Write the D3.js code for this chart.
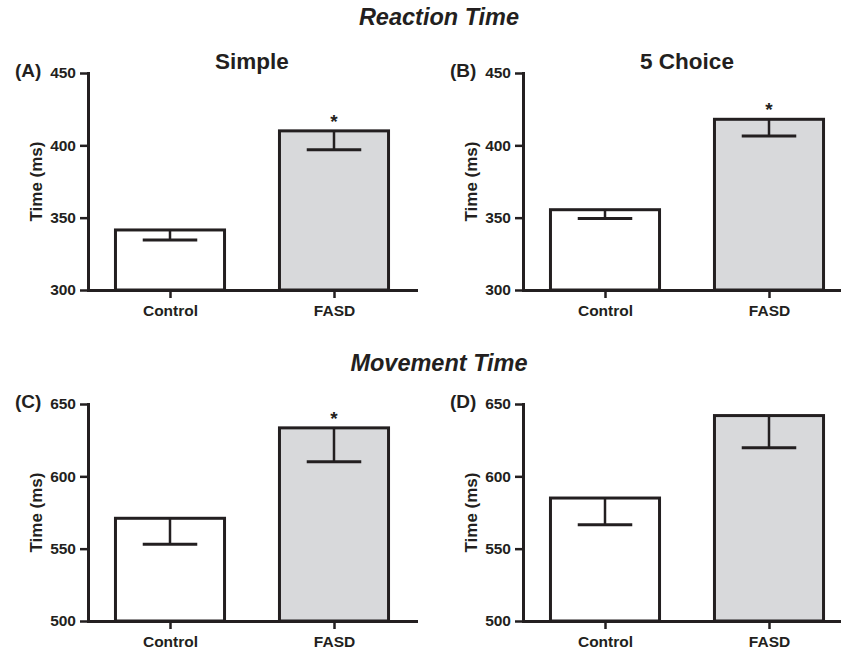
<!DOCTYPE html>
<html lang="en">
<head>
    <meta charset="UTF-8">
    <title>Reaction and movement time</title>
    <script src="https://d3js.org/d3.v7.min.js"></script>
    <style>
        body { margin: 0; background: #fff; }
        text { font-family: "Liberation Sans", Arial, sans-serif; fill: #231f20; }
    </style>
</head>
<body>
<script type="text/javascript">
    // group names on the x axis
    var categories = ["Control", "FASD"];

    // mean and (lower) error
    var simpleMeans = [341.5, 410];
    var simpleErrors = [7, 13];
    var choiceMeans = [355.5, 418];
    var choiceErrors = [6, 11.5];
    var moveSimpleMeans = [571, 633.5];
    var moveSimpleErrors = [18, 23.5];
    var moveChoiceMeans = [585, 642];
    var moveChoiceErrors = [18.5, 22.3];

    var rtTicks = [300, 350, 400, 450];
    var mtTicks = [500, 550, 600, 650];

    var panelLabels = ["(A)", "(B)", "(C)", "(D)"];
    var panelTitles = ["Simple", "5 Choice", "", ""];
    var significant = [true, true, true, false];
    var sectionTitles = ["Reaction Time", "Movement Time"];

    var ink = "#231f20";
    var fills = ["#ffffff", "#d8d9db"];

    var svgWidth = 841;
    var svgHeight = 649;
    var plotWidth = 328;
    var plotHeight = 217;

    var panels = [
        {means: simpleMeans, errors: simpleErrors, ticks: rtTicks, x: 88, y: 73},
        {means: choiceMeans, errors: choiceErrors, ticks: rtTicks, x: 523, y: 73},
        {means: moveSimpleMeans, errors: moveSimpleErrors, ticks: mtTicks, x: 88, y: 404},
        {means: moveChoiceMeans, errors: moveChoiceErrors, ticks: mtTicks, x: 523, y: 404}
    ];

    var svg = d3.select("body").append("svg")
        .attr("width", svgWidth)
        .attr("height", svgHeight);

    // section headings
    svg.selectAll("text.section")
        .data(sectionTitles)
        .enter()
        .append("text")
        .attr("class", "section")
        .attr("x", 439)
        .attr("y", function (d, i) { return i === 0 ? 25 : 371; })
        .attr("text-anchor", "middle")
        .attr("font-size", "23.5px")
        .attr("font-weight", "bold")
        .attr("font-style", "italic")
        .text(function (d) { return d; });

    panels.forEach(function (p, i) {
        var g = svg.append("g")
            .attr("transform", "translate(" + p.x + "," + p.y + ")");

        var yScale = d3.scaleLinear()
            .domain([p.ticks[0], p.ticks[p.ticks.length - 1]])
            .range([plotHeight, 0]);

        var xScale = d3.scalePoint()
            .domain(categories)
            .range([0, plotWidth])
            .padding(0.5);

        var barWidth = xScale.step() * 0.665;
        var capWidth = barWidth * 0.5;

        var rows = categories.map(function (c, j) {
            return {cat: c, mean: p.means[j], err: p.errors[j], fill: fills[j]};
        });

        // bars
        g.selectAll("rect.bar")
            .data(rows)
            .enter()
            .append("rect")
            .attr("class", "bar")
            .attr("x", function (d) { return xScale(d.cat) - barWidth / 2; })
            .attr("y", function (d) { return yScale(d.mean); })
            .attr("width", barWidth)
            .attr("height", function (d) { return yScale(p.ticks[0]) - yScale(d.mean); })
            .attr("fill", function (d) { return d.fill; })
            .attr("stroke", ink)
            .attr("stroke-width", 3);

        // error bars (drawn downward only)
        g.selectAll("line.stem")
            .data(rows)
            .enter()
            .append("line")
            .attr("class", "stem")
            .attr("x1", function (d) { return xScale(d.cat); })
            .attr("x2", function (d) { return xScale(d.cat); })
            .attr("y1", function (d) { return yScale(d.mean); })
            .attr("y2", function (d) { return yScale(d.mean - d.err); })
            .attr("stroke", ink)
            .attr("stroke-width", 2.5);
        g.selectAll("line.cap")
            .data(rows)
            .enter()
            .append("line")
            .attr("class", "cap")
            .attr("x1", function (d) { return xScale(d.cat) - capWidth / 2; })
            .attr("x2", function (d) { return xScale(d.cat) + capWidth / 2; })
            .attr("y1", function (d) { return yScale(d.mean - d.err); })
            .attr("y2", function (d) { return yScale(d.mean - d.err); })
            .attr("stroke", ink)
            .attr("stroke-width", 3);

        // significance star over FASD
        if (significant[i]) {
            g.append("text")
                .attr("x", xScale(categories[1]))
                .attr("y", yScale(p.means[1]) - 3)
                .attr("text-anchor", "middle")
                .attr("font-size", "19px")
                .attr("font-weight", "bold")
                .text("*");
        }

        // axes
        var yAxis = d3.axisLeft(yScale)
            .tickValues(p.ticks)
            .tickSize(8)
            .tickSizeOuter(0)
            .tickPadding(4);
        var yg = g.append("g").attr("class", "y axis").call(yAxis);

        var xAxis = d3.axisBottom(xScale)
            .tickSize(8)
            .tickSizeOuter(0)
            .tickPadding(4);
        var xg = g.append("g")
            .attr("class", "x axis")
            .attr("transform", "translate(0," + plotHeight + ")")
            .call(xAxis);

        [yg, xg].forEach(function (a) {
            a.select(".domain")
                .attr("stroke", ink)
                .attr("stroke-width", 3)
                .attr("stroke-linecap", "square");
            a.selectAll(".tick line")
                .attr("stroke", ink)
                .attr("stroke-width", 2.5);
            a.selectAll(".tick text")
                .attr("fill", ink)
                .attr("font-family", "Liberation Sans, Arial, sans-serif")
                .attr("font-size", "15.5px")
                .attr("font-weight", "bold");
        });
        xg.selectAll(".tick text").attr("dy", "0.9em");

        // y title
        g.append("text")
            .attr("transform", "translate(-46," + (plotHeight / 2) + ") rotate(-90)")
            .attr("text-anchor", "middle")
            .attr("font-size", "17px")
            .attr("font-weight", "bold")
            .text("Time (ms)");

        // panel letter
        g.append("text")
            .attr("x", -73)
            .attr("y", 4)
            .attr("font-size", "19px")
            .attr("font-weight", "bold")
            .text(panelLabels[i]);

        // panel title
        if (panelTitles[i]) {
            g.append("text")
                .attr("x", plotWidth / 2)
                .attr("y", -4)
                .attr("text-anchor", "middle")
                .attr("font-size", "22.5px")
                .attr("font-weight", "bold")
                .text(panelTitles[i]);
        }
    });
</script>
</body>
</html>
